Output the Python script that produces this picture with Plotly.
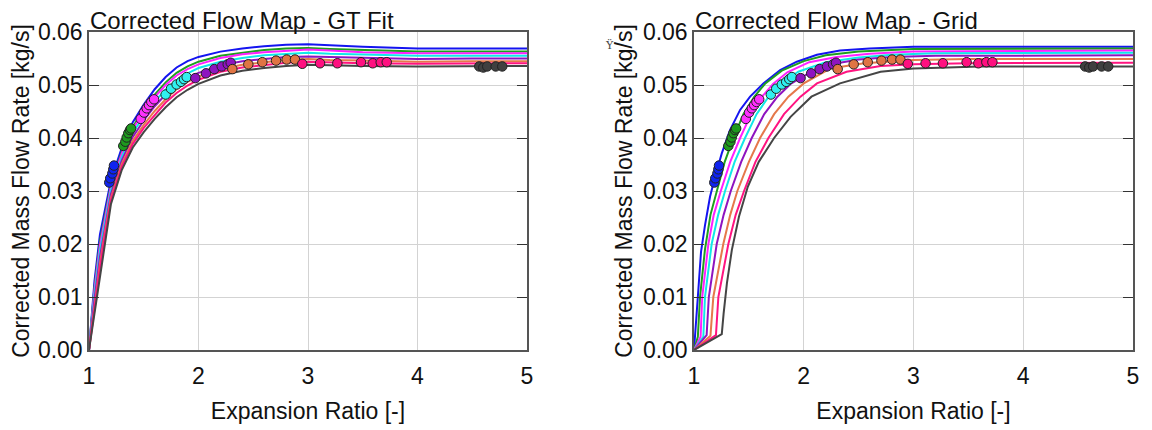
import plotly.graph_objects as go
from plotly.subplots import make_subplots

# ---------------- data ----------------
speed_names = ["blue", "green", "magenta", "cyan", "purple", "orange", "pink", "gray"]
line_colors = ["#1414F0", "#1E9E1E", "#FF20FF", "#10E8E8", "#8E14C0", "#E5784A", "#FF1480", "#454545"]
marker_colors = ["#1024F0", "#1E9A1E", "#FF30FF", "#30F0F0", "#8E14C0", "#E07444", "#FF1080", "#404040"]

# measured points (expansion ratio, corrected mass flow)
pts_blue_x = [1.185, 1.194, 1.213, 1.222, 1.228]
pts_blue_y = [0.0316, 0.0324, 0.0333, 0.0341, 0.0348]
pts_green_x = [1.313, 1.332, 1.344, 1.359, 1.374, 1.384]
pts_green_y = [0.0385, 0.0393, 0.0401, 0.0409, 0.0415, 0.0418]
pts_magenta_x = [1.472, 1.502, 1.527, 1.548, 1.569, 1.594]
pts_magenta_y = [0.0436, 0.0448, 0.0456, 0.0462, 0.0468, 0.0473]
pts_cyan_x = [1.700, 1.749, 1.800, 1.840, 1.868, 1.892]
pts_cyan_y = [0.0482, 0.0493, 0.0501, 0.0506, 0.0511, 0.0515]
pts_purple_x = [1.971, 2.068, 2.144, 2.212, 2.267, 2.294]
pts_purple_y = [0.0513, 0.0522, 0.0530, 0.0535, 0.0539, 0.0542]
pts_orange_x = [2.309, 2.455, 2.583, 2.708, 2.805, 2.881]
pts_orange_y = [0.0530, 0.0539, 0.0543, 0.0546, 0.0548, 0.0548]
pts_pink_x = [2.948, 3.110, 3.268, 3.484, 3.591, 3.664, 3.719]
pts_pink_y = [0.0540, 0.0541, 0.0541, 0.0543, 0.0541, 0.0543, 0.0543]
pts_gray_x = [4.564, 4.601, 4.637, 4.714, 4.774]
pts_gray_y = [0.0535, 0.0533, 0.0535, 0.0535, 0.0535]

# GT fit curves (left), common x grid
fit_x = [1.0, 1.05, 1.1, 1.15, 1.2, 1.3, 1.4, 1.5, 1.6, 1.7, 1.8, 1.9, 2.0, 2.2, 2.4, 2.6, 2.8, 3.0, 3.2, 3.5, 4.0, 4.5, 5.0]
fit_blue = [0, 0.0130, 0.0218, 0.0272, 0.0320, 0.0382, 0.0430, 0.0463, 0.0492, 0.0515, 0.0533, 0.0545, 0.0553, 0.0563, 0.0569, 0.0573, 0.0576, 0.0577, 0.0575, 0.0572, 0.0569, 0.0569, 0.0569]
fit_green = [0, 0.0119, 0.0205, 0.0261, 0.0312, 0.0374, 0.0421, 0.0454, 0.0482, 0.0505, 0.0523, 0.0535, 0.0544, 0.0555, 0.0561, 0.0566, 0.0569, 0.0570, 0.0568, 0.0566, 0.0563, 0.0563, 0.0563]
fit_magenta = [0, 0.0114, 0.0198, 0.0256, 0.0308, 0.0371, 0.0417, 0.0449, 0.0477, 0.0500, 0.0518, 0.0530, 0.0539, 0.0551, 0.0558, 0.0562, 0.0565, 0.0567, 0.0565, 0.0562, 0.0560, 0.0560, 0.0560]
fit_cyan = [0, 0.0105, 0.0187, 0.0247, 0.0301, 0.0364, 0.0410, 0.0441, 0.0469, 0.0491, 0.0509, 0.0522, 0.0532, 0.0544, 0.0551, 0.0556, 0.0559, 0.0561, 0.0559, 0.0557, 0.0555, 0.0555, 0.0555]
fit_purple = [0, 0.0095, 0.0175, 0.0237, 0.0294, 0.0358, 0.0402, 0.0433, 0.0460, 0.0482, 0.0500, 0.0514, 0.0523, 0.0537, 0.0545, 0.0549, 0.0553, 0.0554, 0.0553, 0.0551, 0.0549, 0.0550, 0.0550]
fit_orange = [0, 0.0086, 0.0163, 0.0228, 0.0287, 0.0351, 0.0395, 0.0425, 0.0451, 0.0473, 0.0492, 0.0506, 0.0516, 0.0530, 0.0538, 0.0543, 0.0547, 0.0549, 0.0547, 0.0546, 0.0544, 0.0545, 0.0545]
fit_pink = [0, 0.0079, 0.0154, 0.0221, 0.0282, 0.0346, 0.0389, 0.0419, 0.0444, 0.0467, 0.0485, 0.0499, 0.0510, 0.0525, 0.0533, 0.0538, 0.0542, 0.0544, 0.0543, 0.0541, 0.0540, 0.0541, 0.0541]
fit_gray = [0, 0.0070, 0.0143, 0.0212, 0.0275, 0.0340, 0.0382, 0.0411, 0.0436, 0.0458, 0.0477, 0.0491, 0.0502, 0.0518, 0.0527, 0.0532, 0.0536, 0.0538, 0.0537, 0.0536, 0.0535, 0.0536, 0.0536]

# Grid curves (right)
grid_blue_x = [1.0, 1.012, 1.035, 1.064, 1.10, 1.146, 1.192, 1.253, 1.328, 1.42, 1.511, 1.632, 1.785, 1.937, 2.12, 2.33, 2.6, 3.0, 5.0]
grid_blue_y = [0, 0.003, 0.010, 0.0185, 0.0235, 0.0289, 0.0327, 0.0371, 0.0415, 0.0453, 0.0478, 0.0503, 0.0528, 0.0544, 0.0557, 0.0565, 0.0569, 0.0572, 0.0572]
grid_green_x = [1.0, 1.035, 1.055, 1.10, 1.15, 1.207, 1.28, 1.359, 1.45, 1.55, 1.65, 1.8, 2.0, 2.2, 2.5, 3.0, 5.0]
grid_green_y = [0, 0.0025, 0.010, 0.019, 0.0255, 0.030, 0.0355, 0.040, 0.0445, 0.0478, 0.0503, 0.0527, 0.0545, 0.0556, 0.0563, 0.0568, 0.0569]
grid_magenta_x = [1.0, 1.06, 1.075, 1.131, 1.18, 1.244, 1.33, 1.42, 1.52, 1.62, 1.72, 1.85, 2.05, 2.3, 2.6, 3.0, 5.0]
grid_magenta_y = [0, 0.0025, 0.010, 0.020, 0.0255, 0.030, 0.0355, 0.040, 0.0445, 0.0478, 0.0502, 0.0524, 0.0543, 0.0553, 0.0559, 0.0563, 0.0565]
grid_cyan_x = [1.0, 1.085, 1.10, 1.161, 1.22, 1.283, 1.37, 1.465, 1.57, 1.68, 1.80, 1.95, 2.2, 2.5, 2.8, 3.2, 5.0]
grid_cyan_y = [0, 0.0025, 0.010, 0.020, 0.0255, 0.030, 0.0355, 0.040, 0.0445, 0.0478, 0.0503, 0.0525, 0.0543, 0.0552, 0.0557, 0.0560, 0.0561]
grid_purple_x = [1.0, 1.115, 1.135, 1.207, 1.27, 1.335, 1.43, 1.526, 1.64, 1.76, 1.88, 2.05, 2.25, 2.5, 2.8, 3.2, 5.0]
grid_purple_y = [0, 0.0028, 0.010, 0.020, 0.0255, 0.030, 0.0355, 0.040, 0.0445, 0.0478, 0.0502, 0.0523, 0.0539, 0.0548, 0.0553, 0.0555, 0.0556]
grid_orange_x = [1.0, 1.15, 1.176, 1.267, 1.33, 1.395, 1.50, 1.602, 1.73, 1.86, 2.0, 2.24, 2.55, 3.0, 3.5, 5.0]
grid_orange_y = [0, 0.0027, 0.010, 0.020, 0.0255, 0.030, 0.0355, 0.040, 0.0445, 0.0478, 0.0503, 0.0531, 0.0541, 0.0547, 0.0549, 0.0549]
grid_pink_x = [1.0, 1.20, 1.222, 1.313, 1.38, 1.456, 1.56, 1.678, 1.82, 1.97, 2.12, 2.39, 2.7, 3.0, 3.5, 5.0]
grid_pink_y = [0, 0.0028, 0.010, 0.020, 0.0255, 0.030, 0.0355, 0.040, 0.0445, 0.0478, 0.0503, 0.0525, 0.0536, 0.0539, 0.0541, 0.0542]
grid_gray_x = [1.0, 1.253, 1.27, 1.30, 1.345, 1.41, 1.49, 1.59, 1.73, 1.88, 2.07, 2.33, 2.70, 3.0, 3.31, 3.6, 5.0]
grid_gray_y = [0, 0.003, 0.0069, 0.0126, 0.0189, 0.0252, 0.0308, 0.0355, 0.040, 0.0440, 0.0478, 0.0503, 0.0525, 0.0531, 0.0533, 0.0535, 0.0535]

titles = ["Corrected Flow Map - GT Fit", "Corrected Flow Map - Grid"]
x_title = "Expansion Ratio [-]"
y_title = "Corrected Mass Flow Rate [kg/s]"
x_ticks = [1, 2, 3, 4, 5]
y_ticks = [0.00, 0.01, 0.02, 0.03, 0.04, 0.05, 0.06]

pts_x = [pts_blue_x, pts_green_x, pts_magenta_x, pts_cyan_x, pts_purple_x, pts_orange_x, pts_pink_x, pts_gray_x]
pts_y = [pts_blue_y, pts_green_y, pts_magenta_y, pts_cyan_y, pts_purple_y, pts_orange_y, pts_pink_y, pts_gray_y]
fit_y = [fit_blue, fit_green, fit_magenta, fit_cyan, fit_purple, fit_orange, fit_pink, fit_gray]
grid_x = [grid_blue_x, grid_green_x, grid_magenta_x, grid_cyan_x, grid_purple_x, grid_orange_x, grid_pink_x, grid_gray_x]
grid_y = [grid_blue_y, grid_green_y, grid_magenta_y, grid_cyan_y, grid_purple_y, grid_orange_y, grid_pink_y, grid_gray_y]

# ---------------- figure ----------------
OFF = 8                      # page body margin
W, H = 1152 - OFF, 430 - OFF
FONT = "Arial, Liberation Sans, sans-serif"


def fx(px):   # page pixel -> paper x
    return (px - OFF) / W


def fy(py):   # page pixel -> paper y
    return (H - (py - OFF)) / H


fig = make_subplots(rows=1, cols=2)

for i in range(len(speed_names)):
    fig.add_trace(go.Scatter(x=fit_x, y=fit_y[i], mode="lines",
                             line=dict(color=line_colors[i], width=2), showlegend=False), row=1, col=1)
    fig.add_trace(go.Scatter(x=grid_x[i], y=grid_y[i], mode="lines",
                             line=dict(color=line_colors[i], width=2), showlegend=False), row=1, col=2)
for i in range(len(speed_names)):
    for c in (1, 2):
        fig.add_trace(go.Scatter(x=pts_x[i], y=pts_y[i], mode="markers",
                                 marker=dict(color=marker_colors[i], size=9.5,
                                             line=dict(color="#222222", width=1)),
                                 showlegend=False), row=1, col=c)

px0_l, px1_l = 89, 527
px0_r, px1_r = 694, 1133
py_top, py_bot = 32, 350

axis_common = dict(showline=True, linecolor="#555555", linewidth=1.5, mirror=True,
                   showgrid=True, gridcolor="#D3D3D3", gridwidth=1, zeroline=False,
                   tickfont=dict(family=FONT, size=23, color="#111111"))

for c, (a, b) in enumerate([(px0_l, px1_l), (px0_r, px1_r)], start=1):
    xname = "xaxis" if c == 1 else "xaxis2"
    yname = "yaxis" if c == 1 else "yaxis2"
    fig.layout[xname].update(domain=[fx(a), fx(b)], range=[1, 5], tickvals=x_ticks,
                             ticktext=[str(v) for v in x_ticks], ticks="outside", ticklen=5,
                             tickcolor="rgba(0,0,0,0)",
                             title=dict(text=x_title, font=dict(family=FONT, size=23, color="#111111"),
                                        standoff=15),
                             **axis_common)
    fig.layout[yname].update(domain=[fy(py_bot), fy(py_top)], range=[0, 0.06],
                             tickvals=y_ticks, ticktext=["%.2f" % v for v in y_ticks],
                             ticks="inside", ticklen=10, tickcolor="#333333", tickwidth=1,
                             title=dict(text=y_title, font=dict(family=FONT, size=23, color="#111111"),
                                        standoff=4),
                             **axis_common)
    fig.layout[yname].mirror = "ticks"

annotations = []
for t, a in zip(titles, [px0_l, px0_r]):
    annotations.append(dict(text=t, x=fx(a), y=fy(py_top), xref="paper", yref="paper",
                            xanchor="left", yanchor="bottom", showarrow=False, yshift=-3,
                            font=dict(family=FONT, size=24, color="#111111"), borderpad=0))
annotations.append(dict(text="Ÿ", x=fx(609), y=fy(45), xref="paper", yref="paper",
                        xanchor="center", yanchor="middle", showarrow=False,
                        font=dict(family="DejaVu Serif", size=11, color="#444444")))

fig.update_layout(width=W, height=H, margin=dict(l=0, r=0, t=0, b=0, autoexpand=False),
                  paper_bgcolor="white", plot_bgcolor="white", annotations=annotations,
                  showlegend=False)

fig.write_html("out.html")
